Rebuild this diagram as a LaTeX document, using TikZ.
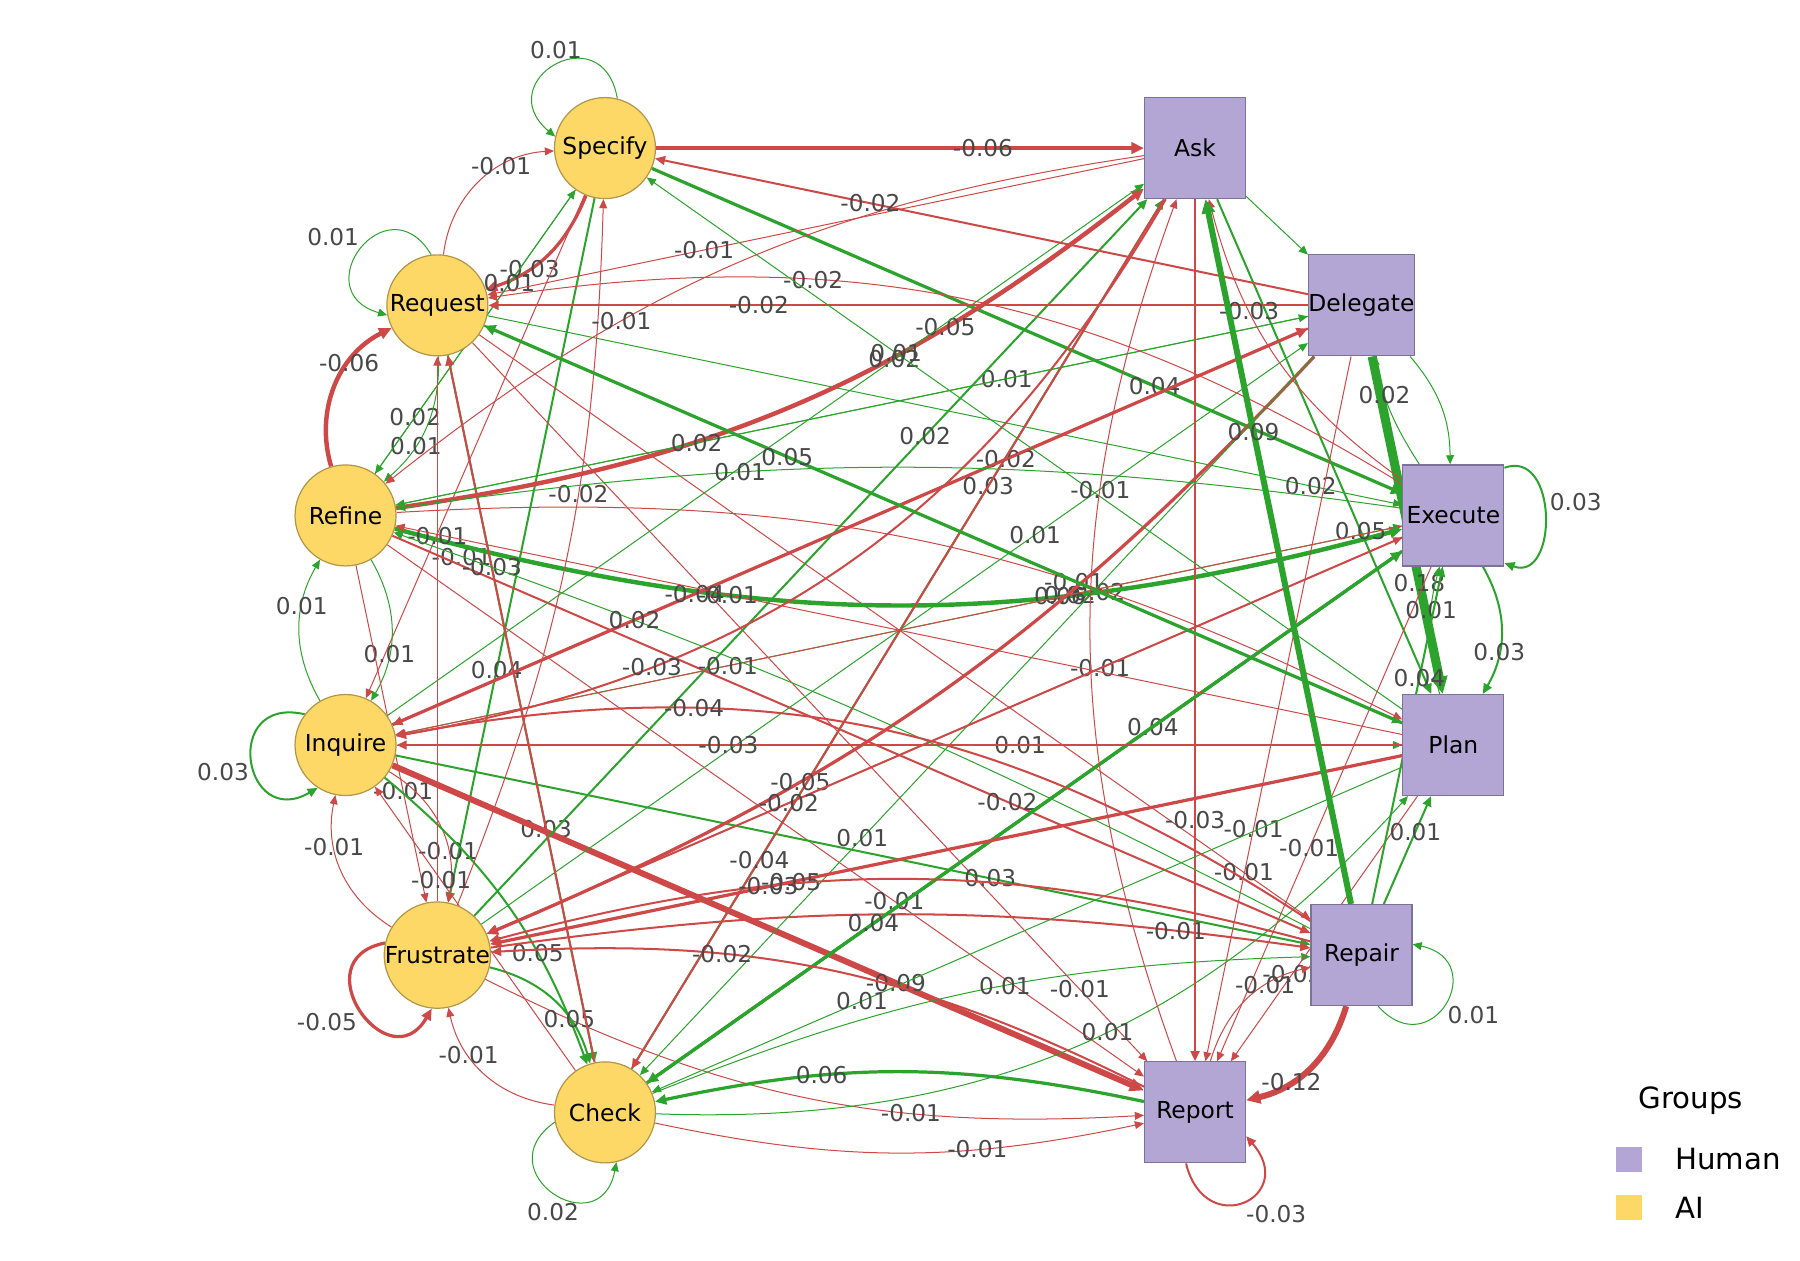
\documentclass[tikz,border=0pt]{standalone}
\usepackage{fontspec}
\setmainfont{DejaVu Sans}
\usepackage{tikz}
\usetikzlibrary{arrows.meta, backgrounds}
\definecolor{aiyellow}{RGB}{253,216,102}
\definecolor{aiborder}{RGB}{176,150,72}
\definecolor{humanpurple}{RGB}{179,166,212}
\definecolor{humanborder}{RGB}{124,114,152}
\definecolor{posgreen}{RGB}{44,163,44}
\definecolor{negred}{RGB}{206,72,72}
\definecolor{labelgray}{RGB}{72,72,72}

\begin{document}
\begin{tikzpicture}[
    x=0.02cm, y=0.02cm,
    aibox/.style={circle, draw=aiborder, fill=aiyellow, line width=0.6pt, minimum size=1.76cm, inner sep=0pt, font=\fontsize{11.6}{13}\selectfont},
    humanbox/.style={rectangle, draw=humanborder, fill=humanpurple, line width=0.6pt, minimum size=1.76cm, inner sep=0pt, font=\fontsize{11.6}{13}\selectfont},
    arrow/.style={->, >={Triangle[length=4pt 1, width=3.4pt 1]}},
    gain/.style={arrow, draw=posgreen},
    loss/.style={arrow, draw=negred},
    lbl/.style={text=labelgray, font=\fontsize{11.5}{13}\selectfont, inner sep=0pt, pos=0.67},
    w1/.style={line width=0.5pt},
    w2/.style={line width=1pt},
    w3/.style={line width=1.6pt},
    w4/.style={line width=2.2pt},
    w5/.style={line width=3pt},
    w6/.style={line width=4.5pt},
    selfloop/.style={looseness=0, min distance=1.5cm},
    legtext/.style={font=\fontsize{14.5}{16}\selectfont, anchor=west, inner sep=0pt}
]
\useasboundingbox (0,0) rectangle (1568,-1098);

% AI states
\node[aibox] (specify) at (527,-129) {Specify};
\node[aibox] (request) at (381,-266) {Request};
\node[aibox] (refine) at (301,-449) {Refine};
\node[aibox] (inquire) at (301,-649) {Inquire};
\node[aibox] (frustrate) at (381,-832) {Frustrate};
\node[aibox] (check) at (527,-969) {Check};

% Human states
\node[humanbox] (ask) at (1041,-129) {Ask};
\node[humanbox] (delegate) at (1186,-266) {Delegate};
\node[humanbox] (execute) at (1266,-449) {Execute};
\node[humanbox] (plan) at (1266,-649) {Plan};
\node[humanbox] (repair) at (1186,-832) {Repair};
\node[humanbox] (report) at (1041,-969) {Report};

% Legend
\node[font=\fontsize{14.5}{16}\selectfont] (groups) at (1473,-959) {Groups};
\node[fill=humanpurple, minimum size=0.44cm, inner sep=0pt] (humankey) at (1419,-1010) {};
\node[legtext] (humanlabel) at (1459,-1010) {Human};
\node[fill=aiyellow, minimum size=0.44cm, inner sep=0pt] (aikey) at (1419,-1052) {};
\node[legtext] (ailabel) at (1459,-1052) {AI};

\begin{scope}[on background layer]
% Loops
\draw[gain, w1] (specify.76) to[selfloop, out=100, in=140] node[lbl, pos=.5, above=3pt] {0.01} (specify.167);
\draw[gain, w1] (request.97) to[selfloop, out=121, in=164] node[lbl, pos=.5, above left=1pt] {0.01} (request.191);
\draw[gain, w2] (inquire.143) to[selfloop, out=167, in=210] node[lbl, pos=.5, below left=1pt] {0.03} (inquire.237);
\draw[loss, w3] (frustrate.167) to[selfloop, out=191, in=240] node[lbl, pos=.5, below left=1pt] {-0.05} (frustrate.264);
\draw[gain, w1] (check.191) to[selfloop, out=215, in=259] node[lbl, pos=.5, below=5pt] {0.02} (check.283);
\draw[gain, w2] (execute.43) to[selfloop, min distance=1cm, out=20, in=-20] node[lbl, pos=.5, above right=2pt] {0.03} (execute.-43);
\draw[gain, w1] (repair.-72) to[selfloop, min distance=1.4cm, out=-48, in=-12] node[lbl, pos=.5, below right=1pt] {0.01} (repair.12);
\draw[loss, w2] (report.-100) to[selfloop, min distance=1.4cm, out=-76, in=-49] node[lbl, pos=.5, below right=1pt] {-0.03} (report.-25);

% Specify
\draw[loss, w4] (specify) -- node[lbl] {-0.06} (ask);
\draw[loss, w3] (specify) to[bend left=25] node[lbl] {-0.03} (request);
\draw[gain, w1] (specify) -- node[lbl, pos=.8] {0.02} (refine);
\draw[gain, w3] (specify) -- node[lbl] {0.04} (execute);
\draw[gain, w2] (specify) -- node[lbl] {0.04} (frustrate);
\draw[loss, w1] (specify) -- node[lbl, pos=.72, right=2pt] {-0.01} (inquire);

% Request
\draw[loss, w1] (request) to[bend left=40] node[lbl] {-0.01} (specify);
\draw[gain, w1] (request) to[bend left=25] node[lbl] {0.01} (refine);
\draw[gain, w2] (request) -- node[lbl] {0.02} (plan);
\draw[gain, w1] (request) -- node[lbl, pos=.9] {0.02} (execute);
\draw[loss, w1] (request) -- node[lbl, pos=.92] {-0.01} (repair);
\draw[loss, w1] (request) -- node[lbl, pos=.9] {-0.01} (report);
\draw[gain, w2] (request) -- node[lbl] {0.03} (check);

% Refine
\draw[gain, w1] (refine) -- node[lbl] {0.01} (specify);
\draw[loss, w4] (refine) to[bend left=40] node[lbl] {-0.06} (request);
\draw[loss, w4] (refine) to[bend right=15] node[lbl, pos=.72] {-0.05} (ask);
\draw[gain, w1] (refine) -- node[lbl] {0.01} (delegate);
\draw[gain, w4] (refine) to[bend right=15] node[lbl] {0.06} (execute);
\draw[loss, w1] (refine) to[bend left=15] node[lbl] {-0.01} (plan);
\draw[loss, w2] (refine) -- node[lbl] {-0.02} (repair);
\draw[loss, w1] (refine) -- node[lbl] {-0.01} (report);
\draw[gain, w1] (refine) to[bend left=30] node[lbl] {0.01} (inquire);
\draw[loss, w1] (refine) -- node[lbl] {-0.01} (frustrate);

% Inquire
\draw[gain, w1] (inquire) -- node[lbl] {0.02} (ask);
\draw[loss, w3] (inquire) -- node[lbl] {-0.02} (delegate);
\draw[gain, w1] (inquire) -- node[lbl] {0.02} (execute);
\draw[gain, w1] (inquire) -- node[lbl, pos=.62] {0.01} (plan);
\draw[gain, w2] (inquire) -- node[lbl, pos=.65] {0.03} (repair);
\draw[loss, w5] (inquire) -- node[lbl] {-0.09} (report);
\draw[gain, w1] (inquire) to[bend left=30] node[lbl] {0.01} (refine);
\draw[loss, w1] (inquire) to[bend left=35] node[lbl] {-0.01} (frustrate);
\draw[gain, w2] (inquire) to[bend left=15] node[lbl] {0.05} (check);

% Frustrate
\draw[gain, w2] (frustrate) -- node[lbl] {0.02} (ask);
\draw[gain, w1] (frustrate) -- node[lbl] {0.01} (delegate);
\draw[loss, w1] (frustrate) -- node[lbl] {-0.01} (execute);
\draw[loss, w2] (frustrate) to[bend left=8] node[lbl, pos=.85] {-0.01} (repair);
\draw[loss, w1] (frustrate) to[bend right=15] node[lbl] {-0.01} (report);
\draw[loss, w1] (frustrate) -- node[lbl] {-0.01} (request);
\draw[loss, w1] (frustrate) to[bend right=10] node[lbl, pos=.6] {-0.02} (specify);
\draw[loss, w1] (frustrate) to[bend left=35] node[lbl] {-0.01} (inquire);
\draw[gain, w2] (frustrate) to[bend left=30] node[lbl] {0.05} (check);

% Check
\draw[gain, w2] (check) -- node[lbl] {0.03} (ask);
\draw[gain, w3] (check) -- node[lbl] {0.04} (execute);
\draw[gain, w1] (check) to[bend right=25] node[lbl, pos=.55] {0.01} (plan);
\draw[gain, w1] (check) to[bend left=10] node[lbl, pos=.55] {0.01} (repair);
\draw[loss, w1] (check) to[bend right=12] node[lbl] {-0.01} (report);
\draw[loss, w2] (check) -- node[lbl, pos=.7] {-0.03} (request);
\draw[loss, w1] (check) -- node[lbl] {-0.01} (inquire);
\draw[loss, w1] (check) to[bend left=35] node[lbl] {-0.01} (frustrate);

% Ask
\draw[loss, w1] (ask) -- node[lbl] {-0.01} (request);
\draw[loss, w1] (ask) to[bend right=15] node[lbl] {-0.01} (refine);
\draw[loss, w2] (ask) to[bend left=25] node[lbl, pos=.74] {-0.03} (inquire);
\draw[gain, w2] (ask) -- node[lbl] {0.05} (plan);
\draw[gain, w1] (ask) -- (delegate);
\draw[loss, w2] (ask) -- node[lbl, pos=.72] {-0.03} (report);
\draw[loss, w2] (ask) -- node[lbl, pos=.76] {-0.04} (check);

% Delegate
\draw[loss, w2] (delegate) -- node[lbl] {-0.02} (specify);
\draw[loss, w2] (delegate) -- node[lbl] {-0.02} (request);
\draw[gain, w1] (delegate) -- node[lbl] {0.02} (refine);
\draw[loss, w2] (delegate) -- node[lbl] {-0.04} (inquire);
\draw[loss, w3] (delegate) to[bend left=12] node[lbl] {-0.05} (frustrate);
\draw[gain, w1] (delegate) -- node[lbl] {0.01} (check);
\draw[gain, w1] (delegate) to[bend left=20] (execute);
\draw[gain, w6] (delegate) -- node[lbl] {0.18} (plan);
\draw[loss, w1] (delegate) -- node[lbl] {-0.01} (report);

% Execute
\draw[loss, w1] (execute) to[bend right=20] node[lbl] {-0.02} (request);
\draw[loss, w1] (execute) to[bend left=20] node[lbl] {-0.03} (ask);
\draw[gain, w1] (execute) to[bend left=10] node[lbl] {0.02} (delegate);
\draw[gain, w1] (execute) to[bend right=8] node[lbl] {0.01} (refine);
\draw[loss, w1] (execute) -- node[lbl] {-0.01} (inquire);
\draw[loss, w2] (execute) -- node[lbl] {-0.02} (frustrate);
\draw[gain, w3] (execute) -- node[lbl, pos=.7] {0.04} (check);
\draw[gain, w2] (execute) to[bend left=30] node[lbl] {0.03} (plan);
\draw[loss, w1] (execute) -- node[lbl, pos=.57] {-0.01} (report);

% Plan
\draw[gain, w1] (plan) -- node[lbl] {0.01} (specify);
\draw[gain, w3] (plan) -- node[lbl] {0.05} (request);
\draw[loss, w1] (plan) -- node[lbl] {-0.01} (refine);
\draw[loss, w2] (plan) -- node[lbl] {-0.03} (inquire);
\draw[loss, w3] (plan) -- node[lbl] {-0.05} (frustrate);
\draw[gain, w1] (plan) -- node[lbl, pos=.72] {0.01} (check);
\draw[gain, w1] (plan) to[bend left=15] node[lbl] {0.01} (execute);
\draw[loss, w1] (plan) -- node[lbl] {-0.02} (report);

% Repair
\draw[gain, w5] (repair) -- node[lbl] {0.09} (ask);
\draw[gain, w2] (repair) -- node[lbl] {0.04} (execute);
\draw[gain, w2] (repair) -- node[lbl] {0.01} (plan);
\draw[gain, w1] (repair) to[bend right=4] node[lbl, pos=.76] {0.02} (refine);
\draw[loss, w2] (repair) to[bend right=22] node[lbl, pos=.7] {-0.04} (inquire);
\draw[loss, w2] (repair) to[bend right=15] node[lbl] {-0.03} (frustrate);
\draw[loss, w5] (repair) to[bend left=30] node[lbl] {-0.12} (report);

% Report
\draw[loss, w1] (report) to[bend left=20] node[lbl] {-0.01} (ask);
\draw[loss, w1] (report) to[bend left=30] node[lbl] {-0.01} (repair);
\draw[loss, w2] (report) to[bend right=15] node[lbl] {-0.02} (frustrate);
\draw[gain, w3] (report) to[bend right=12] node[lbl] {0.06} (check);
\end{scope}

\end{tikzpicture}
\end{document}
